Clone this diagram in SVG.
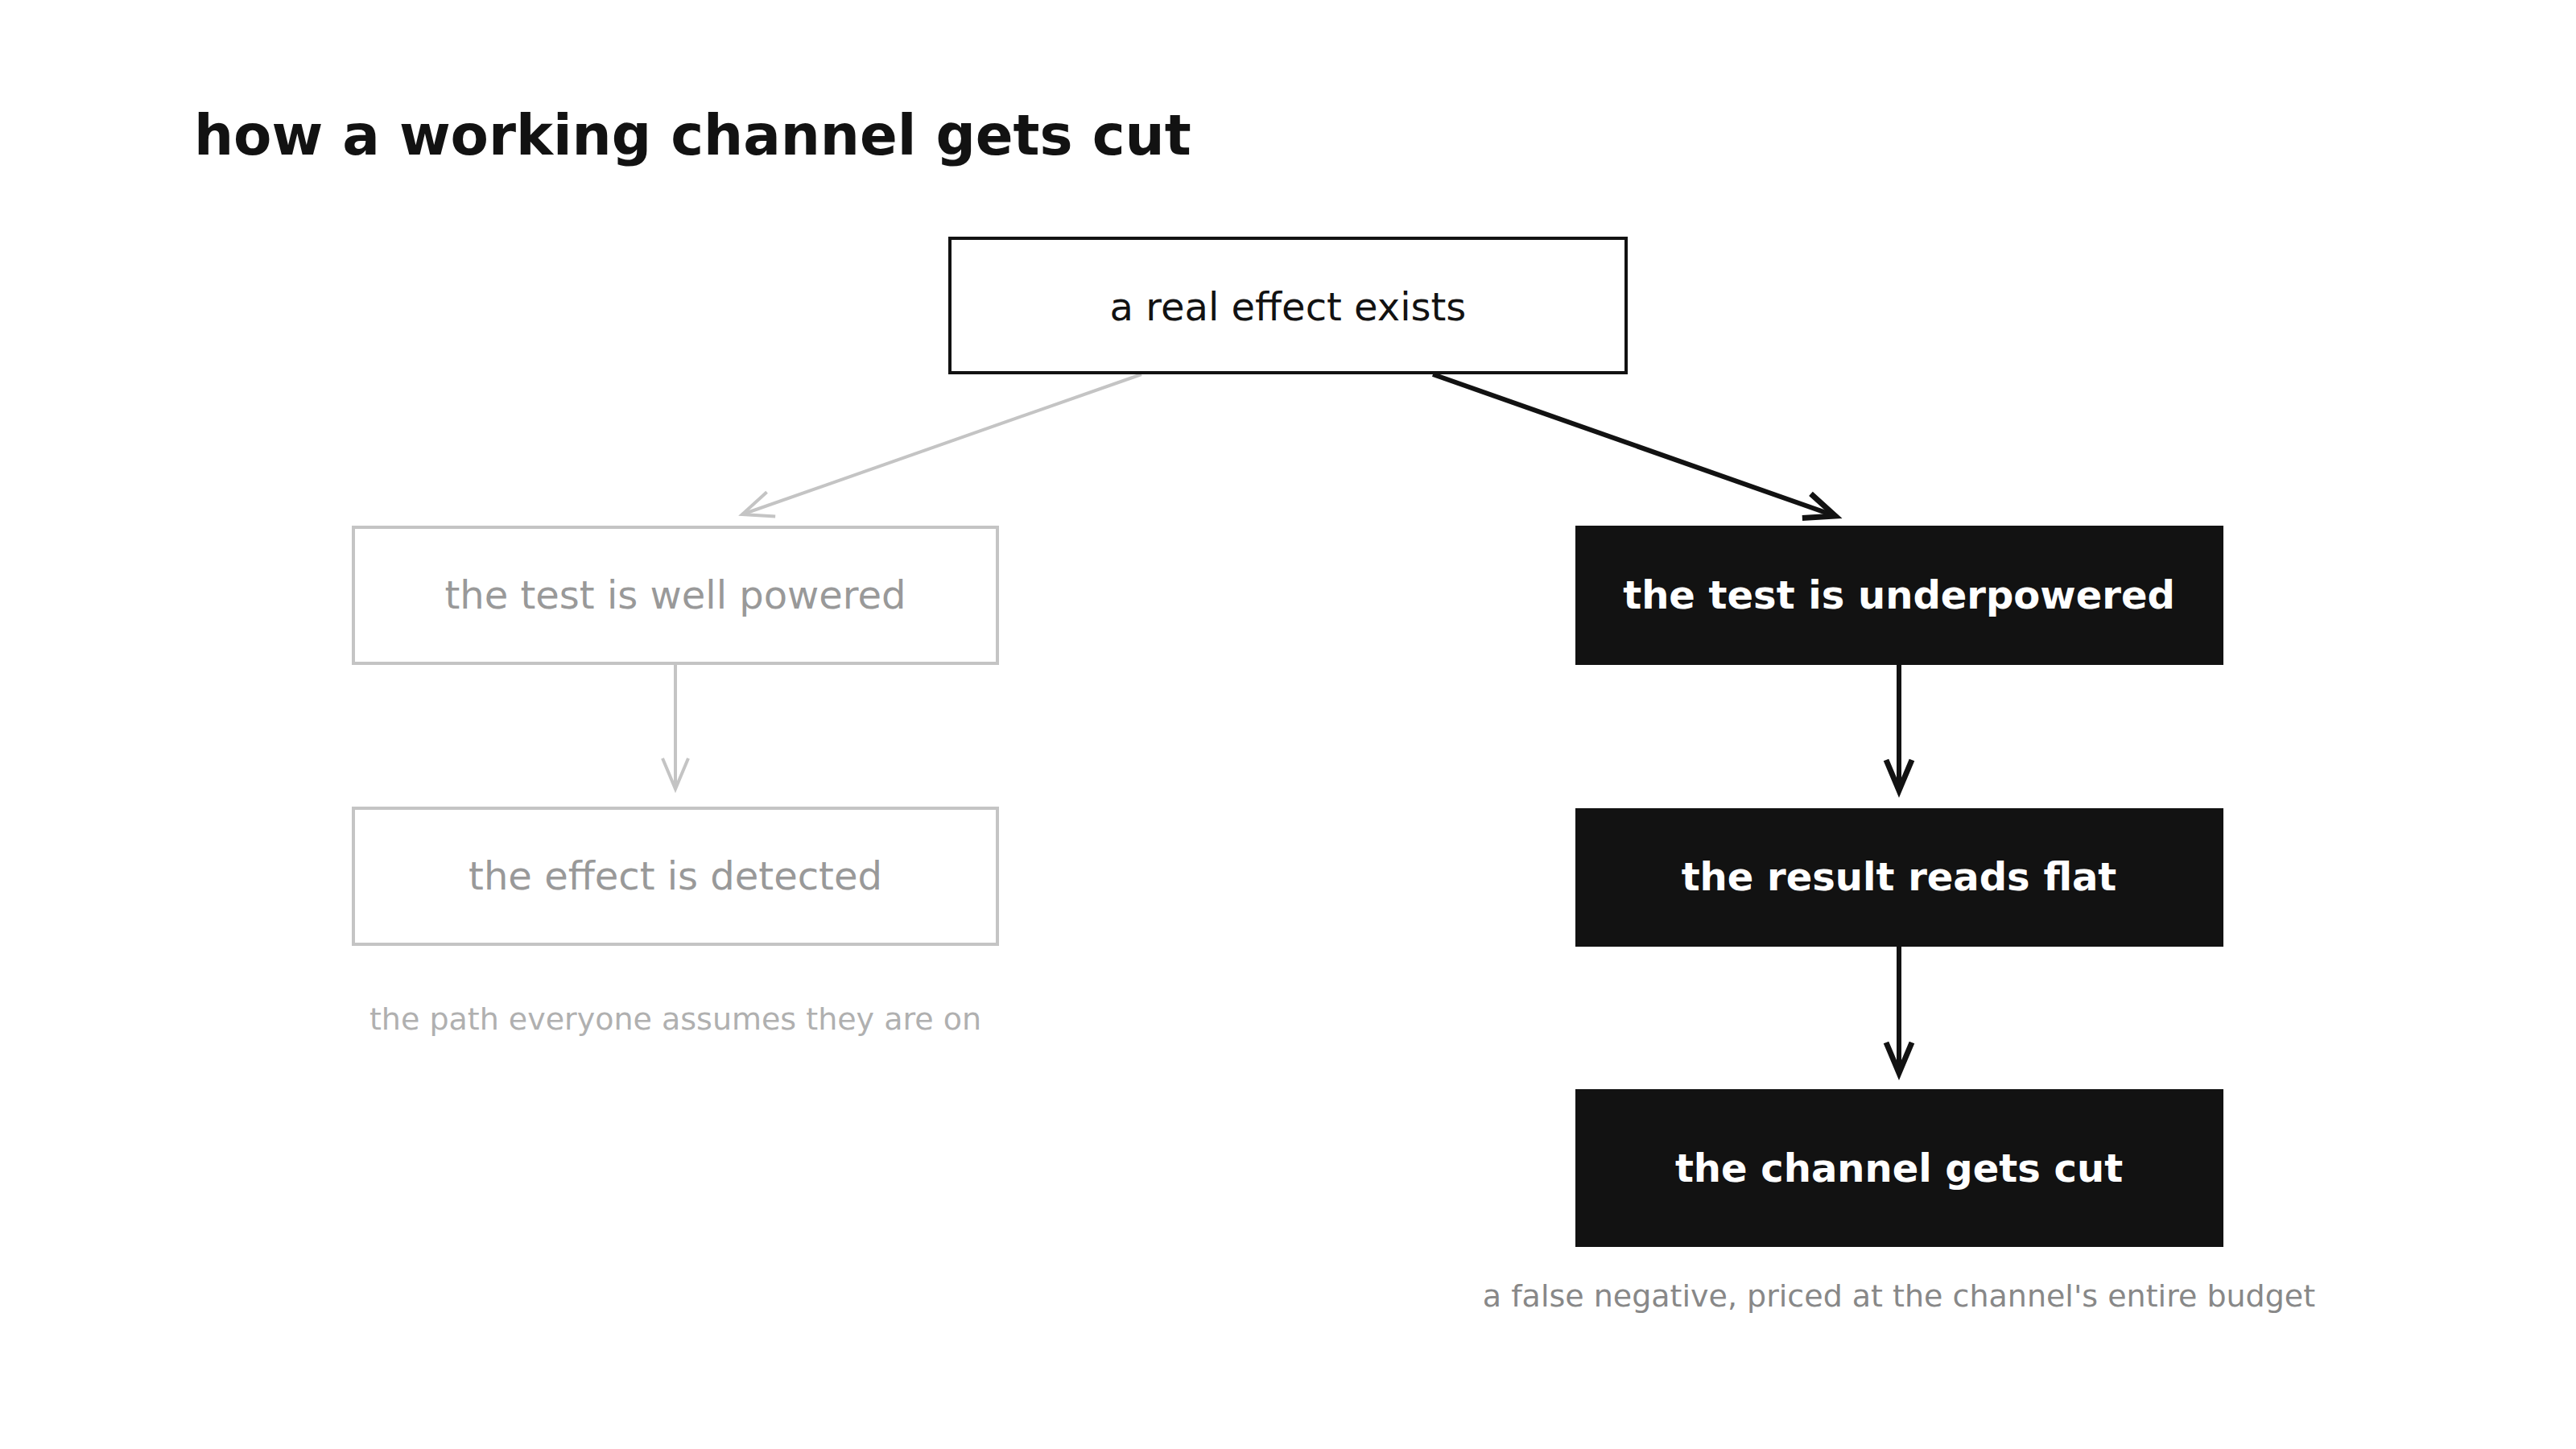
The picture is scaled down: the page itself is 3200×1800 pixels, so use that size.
<svg xmlns="http://www.w3.org/2000/svg" width="3200" height="1800" viewBox="0 0 3200 1800">
<style>
text{font-family:"DejaVu Sans",sans-serif;text-anchor:middle}
.g rect{fill:#fff;stroke:#c4c4c4;stroke-width:4}
.g text{fill:#999;font-size:48px}
.k rect{fill:#121212}
.k text{fill:#fff;font-size:48px;font-weight:bold}
.cap{font-size:38px}
</style>
<defs>
<marker id="ag" markerUnits="userSpaceOnUse" markerWidth="60" markerHeight="60" refX="40" refY="20" orient="auto" viewBox="0 0 60 40"><path d="M2 4 L40 20 L2 36" fill="none" stroke="#c4c4c4" stroke-width="4"/></marker>
<marker id="ak" markerUnits="userSpaceOnUse" markerWidth="60" markerHeight="60" refX="40" refY="20" orient="auto" viewBox="0 0 60 40"><path d="M2 4 L40 20 L2 36" fill="none" stroke="#121212" stroke-width="7"/></marker>
</defs>
<rect width="3200" height="1800" fill="#fff"/>
<text x="241" y="192" style="text-anchor:start;font-size:69px;font-weight:bold;fill:#121212">how a working channel gets cut</text>
<g id="connectors" fill="none">
<path d="M1418 465 L922 639" stroke="#c4c4c4" stroke-width="4" marker-end="url(#ag)"/>
<path d="M839 824 L839 980" stroke="#c4c4c4" stroke-width="4" marker-end="url(#ag)"/>
<path d="M1780 465 L2280 641" stroke="#121212" stroke-width="6" marker-end="url(#ak)"/>
<path d="M2359 826 L2359 982" stroke="#121212" stroke-width="6" marker-end="url(#ak)"/>
<path d="M2359 1176 L2359 1333" stroke="#121212" stroke-width="6" marker-end="url(#ak)"/>
</g>
<g id="top"><rect x="1180" y="296" width="840" height="167" fill="#fff" stroke="#121212" stroke-width="4"/><text x="1600" y="398" font-size="48" fill="#121212">a real effect exists</text></g>
<g id="well" class="g"><rect x="439" y="655" width="800" height="169"/><text x="839" y="756">the test is well powered</text></g>
<g id="detected" class="g"><rect x="439" y="1004" width="800" height="169"/><text x="839" y="1105">the effect is detected</text></g>
<g id="under" class="k"><rect x="1957" y="653" width="805" height="173"/><text x="2359" y="756">the test is underpowered</text></g>
<g id="flat" class="k"><rect x="1957" y="1004" width="805" height="172"/><text x="2359" y="1106">the result reads flat</text></g>
<g id="cut" class="k"><rect x="1957" y="1353" width="805" height="196"/><text x="2359" y="1468">the channel gets cut</text></g>
<text class="cap" x="839" y="1279" fill="#b0b0b0">the path everyone assumes they are on</text>
<text class="cap" x="2359" y="1623" fill="#888">a false negative, priced at the channel's entire budget</text>
</svg>
